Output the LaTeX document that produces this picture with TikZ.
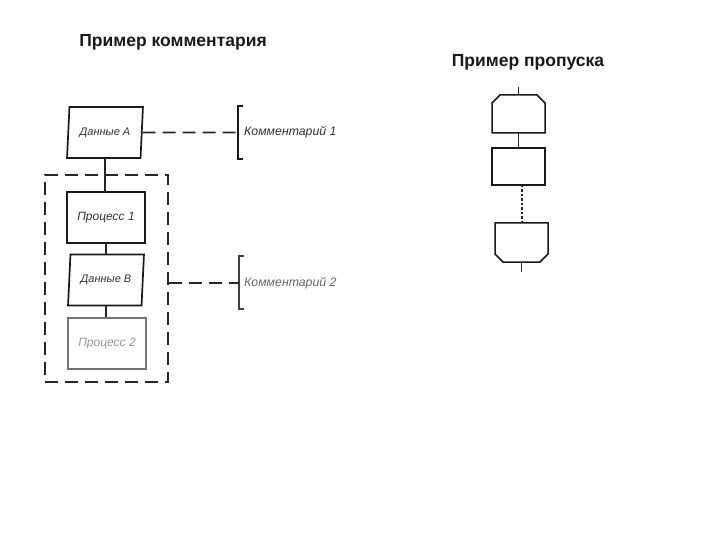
\documentclass[tikz,border=0pt]{standalone}
\usepackage{fontspec}
\setmainfont{Liberation Sans}
\usetikzlibrary{shapes.geometric}
\begin{document}
\begin{tikzpicture}[x=1pt,y=-1pt,
  title/.style={font=\fontsize{17.5}{20}\selectfont\bfseries, text=black!90, inner sep=0pt},
  hand/.style={font=\fontsize{11}{13}\selectfont\itshape, text=black!80},
  databox/.style={trapezium, trapezium left angle=80, trapezium right angle=100,
    trapezium stretches=true, draw=black!90, line width=1.7pt,
    minimum width=76pt, minimum height=51pt, inner sep=0pt, hand},
  procbox/.style={rectangle, draw=black!90, line width=2pt,
    minimum width=78pt, minimum height=51pt, inner sep=0pt, hand,
    font=\fontsize{12}{14}\selectfont\itshape},
  link/.style={draw=black!85, line width=1.5pt},
  cdash/.style={draw=black!85, line width=1.9pt, dash pattern=on 13pt off 7pt},
  brack/.style={draw=black!90, line width=2.2pt},
  comtext/.style={font=\fontsize{12.3}{14}\selectfont\itshape, text=black!80, anchor=west, inner sep=0pt},
  slot/.style={rectangle, draw=none, inner sep=0pt, outer sep=0pt},
  outline/.style={draw=black!90, line width=1.5pt},
  plainbox/.style={rectangle, draw=black!90, line width=1.5pt,
    minimum width=53pt, minimum height=37pt, inner sep=0pt, outer sep=0pt},
  thin/.style={draw=black!85, line width=1.3pt}
]
\useasboundingbox (0,0) rectangle (720,540);

% titles
\node[title] (t1) at (173,42) {Пример комментария};
\node[title] (t2) at (528,62) {Пример пропуска};

% left flowchart
\node[databox] (dA) at (105,132.5) {Данные А};
\node[procbox] (p1) at (106,217.5) {Процесс 1};
\node[databox] (dB) at (106,280) {Данные В};
\node[procbox, draw=black!55, text=black!40] (p2) at (107,343.5) {Процесс 2};
\node[draw=black!85, line width=1.7pt, dash pattern=on 13pt off 7pt,
      minimum width=123pt, minimum height=207pt, inner sep=0pt] (grp) at (106.5,278.5) {};

\draw[link] (dA.south) -- (dA.south |- p1.north);
\draw[link] (p1.south) -- (p1.south |- dB.north);
\draw[link] (dB.south) -- (dB.south |- p2.north);

% comment 1
\node[comtext] (c1) at (244,132.5) {Комментарий 1};
\coordinate (b1) at (238,132.5);
\draw[brack] ([xshift=5pt]b1 |- dA.north) -- (b1 |- dA.north) -- (b1 |- dA.south) -- ([xshift=5pt]b1 |- dA.south);
\draw[cdash] (dA.east) -- (b1);

% comment 2
\node[comtext, text=black!60] (c2) at (244,283) {Комментарий 2};
\coordinate (b2) at (239,283);
\draw[brack, draw=black!75] ([xshift=5pt]b2 |- 0,256) -- (b2 |- 0,256) -- (b2 |- 0,309) -- ([xshift=5pt]b2 |- 0,309);
\draw[cdash] (grp.east |- b2) -- (b2);

% right flowchart
\coordinate (top) at (518.5,87);
\node[slot, minimum width=53pt, minimum height=38pt] (L1) at (518.5,114) {};
\draw[outline] (L1.south west) -- ([yshift=-8pt]L1.north west) -- ([xshift=8pt]L1.north west)
  -- ([xshift=-8pt]L1.north east) -- ([yshift=-8pt]L1.north east) -- (L1.south east) -- cycle;
\node[plainbox] (R) at (518.5,166.5) {};
\node[slot, minimum width=53pt, minimum height=39pt] (L2) at (521.5,242.5) {};
\draw[outline] (L2.north west) -- ([yshift=8pt]L2.south west) -- ([xshift=8pt]L2.south west)
  -- ([xshift=-8pt]L2.south east) -- ([yshift=8pt]L2.south east) -- (L2.north east) -- cycle;
\coordinate (bot) at (521.5,272);

\draw[thin] (top) -- (L1.north);
\draw[thin] (L1.south) -- (R.north);
\draw[thin, line width=2pt, dash pattern=on 2.5pt off 2pt] (R.south -| L2.north) -- (L2.north);
\draw[thin] (L2.south) -- (bot);
\end{tikzpicture}
\end{document}
